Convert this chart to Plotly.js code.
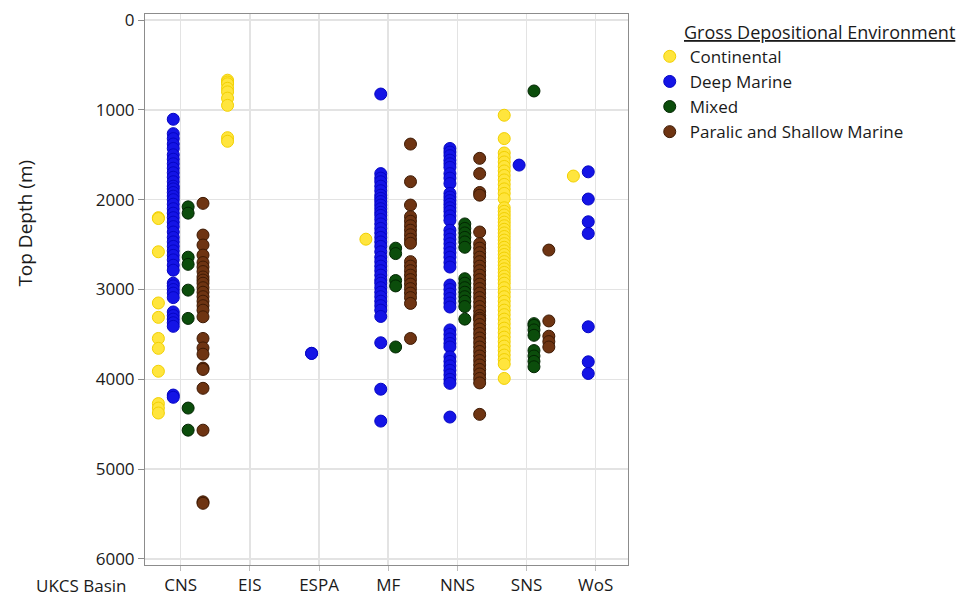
<!DOCTYPE html>
<html>
<head>
<meta charset="utf-8">
<script src="https://cdn.plot.ly/plotly-3.0.1.min.js"></script>
<style>
  html, body { margin: 0; padding: 0; background: #ffffff; }
  #chart { width: 957px; height: 597px; }
</style>
</head>
<body>
<div id="chart"></div>
<script>
// UKCS basins along the category axis
const basins = ['CNS', 'EIS', 'ESPA', 'MF', 'NNS', 'SNS', 'WoS'];

// Top depth (m) of each sample, grouped by basin and gross depositional environment
const cnsContinental = [2200, 2210, 2580, 3150, 3310, 3545, 3655, 3910, 4270, 4320, 4375];
const eisContinental = [670, 690, 710, 760, 800, 870, 950, 1310, 1350];
const mfContinental = [2440];
const snsContinental = [1060, 1320, 1480, 1530, 1580, 1630, 1680, 1730, 1780, 1830, 1880, 1930, 1990,
  2090, 2130, 2170, 2210, 2250, 2290, 2330, 2370, 2410, 2450, 2490, 2530, 2570, 2610, 2650, 2690,
  2730, 2770, 2810, 2850, 2890, 2930, 2980, 3030, 3080, 3130, 3180, 3230, 3280, 3330, 3380, 3430,
  3480, 3530, 3580, 3630, 3680, 3730, 3780, 3830, 3990];
const wosContinental = [1737];

const cnsDeepMarine = [1105, 1265, 1320, 1380, 1430, 1500, 1550, 1600, 1650, 1700, 1750, 1800, 1850,
  1880, 1920, 1960, 2000, 2050, 2100, 2150, 2200, 2250, 2300, 2360, 2420, 2470, 2520, 2570, 2620,
  2670, 2730, 2785, 2930, 2960, 3000, 3040, 3090, 3250, 3290, 3330, 3370, 3410, 4175, 4200];
const espaDeepMarine = [3710, 3712];
const mfDeepMarine = [824, 1710, 1760, 1800, 1850, 1900, 1950, 1985, 2020, 2060, 2100, 2140, 2175,
  2220, 2270, 2320, 2370, 2420, 2470, 2520, 2580, 2640, 2690, 2740, 2790, 2840, 2895, 2930, 2980,
  3030, 3080, 3130, 3180, 3230, 3300, 3593, 4110, 4465];
const nnsDeepMarine = [1430, 1470, 1510, 1560, 1600, 1640, 1710, 1760, 1820, 1930, 1970, 2010, 2050,
  2090, 2130, 2180, 2230, 2340, 2390, 2440, 2490, 2540, 2590, 2640, 2700, 2750, 2950, 3000, 3050,
  3100, 3150, 3195, 3450, 3500, 3550, 3600, 3640, 3750, 3800, 3850, 3900, 3950, 4000, 4045, 4420];
const snsDeepMarine = [1615];
const wosDeepMarine = [1690, 1993, 2246, 2376, 3415, 3805, 3935];

const cnsMixed = [2080, 2150, 2640, 2720, 3007, 3322, 4320, 4566];
const mfMixed = [2540, 2600, 2900, 2960, 3640];
const nnsMixed = [2270, 2320, 2370, 2420, 2470, 2530, 2880, 2930, 2980, 3030, 3080, 3130, 3190, 3330];
const snsMixed = [790, 3380, 3400, 3450, 3510, 3680, 3740, 3800, 3860];

const cnsParalic = [2041, 2394, 2505, 2617, 2700, 2750, 2800, 2860, 2895, 2930, 2980, 3030, 3080,
  3130, 3180, 3230, 3304, 3545, 3650, 3720, 3875, 3890, 4100, 4566, 5364, 5380];
const mfParalic = [1381, 1800, 2060, 2190, 2240, 2290, 2340, 2390, 2440, 2485, 2690, 2740, 2790,
  2840, 2890, 2940, 2990, 3040, 3090, 3155, 3545];
const nnsParalic = [1540, 1710, 1920, 1950, 2360, 2490, 2540, 2590, 2640, 2690, 2740, 2790, 2840,
  2890, 2940, 2990, 3040, 3090, 3140, 3190, 3240, 3290, 3320, 3340, 3390, 3440, 3490, 3540, 3590,
  3640, 3690, 3740, 3790, 3840, 3890, 3940, 3990, 4040, 4390];
const snsParalic = [2561, 3350, 3520, 3580, 3640];

// Environments in legend order, with their basins' depth lists
const environments = [
  { name: 'Continental', fill: '#ffe53d', edge: '#f2d000',
    groups: { CNS: cnsContinental, EIS: eisContinental, MF: mfContinental, SNS: snsContinental, WoS: wosContinental } },
  { name: 'Deep Marine', fill: '#1414e6', edge: '#0505c4',
    groups: { CNS: cnsDeepMarine, ESPA: espaDeepMarine, MF: mfDeepMarine, NNS: nnsDeepMarine, SNS: snsDeepMarine, WoS: wosDeepMarine } },
  { name: 'Mixed', fill: '#0b4d0b', edge: '#022602',
    groups: { CNS: cnsMixed, MF: mfMixed, NNS: nnsMixed, SNS: snsMixed } },
  { name: 'Paralic and Shallow Marine', fill: '#6e3412', edge: '#3e1a04',
    groups: { CNS: cnsParalic, MF: mfParalic, NNS: nnsParalic, SNS: snsParalic } }
];

const traces = environments.map(env => {
  const x = [], y = [];
  basins.forEach(b => {
    (env.groups[b] || []).forEach(d => { x.push(b); y.push(d); });
  });
  return {
    type: 'scatter', mode: 'markers', name: env.name,
    x: x, y: y,
    marker: { size: 12, color: env.fill, line: { color: env.edge, width: 1 } },
    hoverinfo: 'x+y+name'
  };
});

const font = { family: 'Open Sans, Noto Sans, sans-serif', size: 17, color: '#1a1a1a' };

const layout = {
  width: 957, height: 597,
  margin: { l: 145, r: 329, t: 14, b: 32, pad: 0 },
  paper_bgcolor: '#ffffff', plot_bgcolor: '#ffffff',
  font: font,
  scattermode: 'group',
  scattergap: 0.14,
  showlegend: true,
  legend: {
    x: 1.045, xanchor: 'left', y: 0.955, yanchor: 'top',
    font: { family: font.family, size: 17, color: '#1a1a1a' },
    bgcolor: 'rgba(0,0,0,0)', borderwidth: 0, itemclick: false
  },
  xaxis: {
    type: 'category', categoryorder: 'array', categoryarray: basins,
    range: [-0.516, 6.467],
    showgrid: true, gridcolor: '#e3e3e3', gridwidth: 1.5,
    showline: true, linecolor: '#8c8c8c', linewidth: 1, mirror: true,
    ticks: 'outside', ticklen: 5, tickcolor: '#bdbdbd', tickwidth: 1,
    tickfont: { family: font.family, size: 17, color: '#1a1a1a' },
    zeroline: false
  },
  yaxis: {
    range: [6067, -67],
    tickvals: [0, 1000, 2000, 3000, 4000, 5000, 6000],
    showgrid: true, gridcolor: '#e3e3e3', gridwidth: 1.5,
    showline: true, linecolor: '#8c8c8c', linewidth: 1, mirror: true,
    ticks: 'outside', ticklen: 6, tickcolor: '#8c8c8c', tickwidth: 1,
    tickfont: { family: font.family, size: 17, color: '#1a1a1a' },
    zeroline: false
  },
  annotations: [
    { text: 'Top Depth (m)', xref: 'paper', yref: 'paper', x: -0.248, y: 0.62,
      textangle: -90, showarrow: false, xanchor: 'center', yanchor: 'middle',
      font: { family: font.family, size: 19, color: '#1a1a1a' } },
    { text: 'UKCS Basin', xref: 'paper', yref: 'paper', x: -0.1325, y: -0.037,
      showarrow: false, xanchor: 'center', yanchor: 'middle',
      font: { family: font.family, size: 17, color: '#1a1a1a' } },
    { text: '<u>Gross Depositional Environment</u>', xref: 'paper', yref: 'paper',
      x: 1.112, y: 0.968, showarrow: false, xanchor: 'left', yanchor: 'middle',
      font: { family: font.family, size: 18, color: '#1a1a1a' } }
  ]
};

Plotly.newPlot('chart', traces, layout, { displayModeBar: false, staticPlot: true });
</script>
</body>
</html>
